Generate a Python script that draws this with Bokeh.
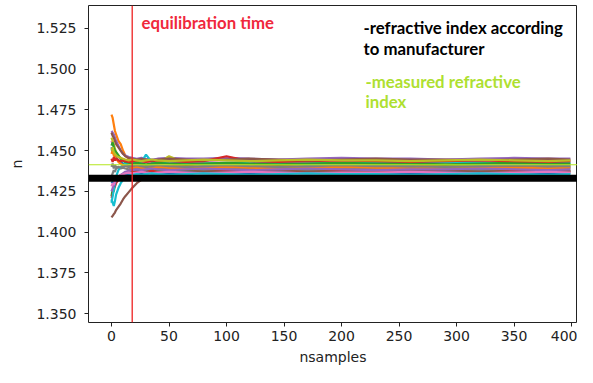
from bokeh.plotting import figure
from bokeh.models import Span, Label, FixedTicker, NumeralTickFormatter, Range1d
from bokeh.palettes import Category10_10
from bokeh.embed import file_html
from bokeh.resources import INLINE

# ---------------- data ----------------
nsamples = [0, 1, 2, 3, 4, 6, 8, 10, 12, 15, 18, 22, 26, 30, 35, 40, 50, 65, 80, 100,
            120, 145, 170, 200, 230, 260, 290, 320, 350, 380, 399]

s0 = [1.4520, 1.4490, 1.4500, 1.4470, 1.4460, 1.4440, 1.4430, 1.4420, 1.4415, 1.4410,
      1.4405, 1.4400, 1.4405, 1.4400, 1.4395, 1.4400, 1.4405, 1.4400, 1.4395, 1.4400,
      1.4405, 1.4400, 1.4400, 1.4395, 1.4400, 1.4405, 1.4400, 1.4395, 1.4400, 1.4400, 1.4400]
s1 = [1.4720, 1.4700, 1.4660, 1.4620, 1.4600, 1.4560, 1.4540, 1.4500, 1.4470, 1.4450,
      1.4430, 1.4420, 1.4415, 1.4410, 1.4415, 1.4410, 1.4405, 1.4410, 1.4415, 1.4410,
      1.4405, 1.4410, 1.4415, 1.4410, 1.4410, 1.4405, 1.4410, 1.4415, 1.4410, 1.4405, 1.4410]
s2 = [1.4220, 1.4260, 1.4250, 1.4290, 1.4310, 1.4330, 1.4340, 1.4355, 1.4365, 1.4370,
      1.4375, 1.4380, 1.4375, 1.4380, 1.4385, 1.4380, 1.4375, 1.4380, 1.4385, 1.4380,
      1.4375, 1.4380, 1.4380, 1.4385, 1.4380, 1.4375, 1.4380, 1.4385, 1.4380, 1.4380, 1.4375]
s3 = [1.4210, 1.4230, 1.4270, 1.4280, 1.4300, 1.4320, 1.4330, 1.4340, 1.4350, 1.4360,
      1.4365, 1.4370, 1.4365, 1.4370, 1.4375, 1.4370, 1.4365, 1.4370, 1.4370, 1.4375,
      1.4370, 1.4365, 1.4370, 1.4375, 1.4370, 1.4365, 1.4370, 1.4370, 1.4375, 1.4370, 1.4370]
s4 = [1.4620, 1.4610, 1.4600, 1.4580, 1.4560, 1.4530, 1.4500, 1.4480, 1.4470, 1.4460,
      1.4455, 1.4450, 1.4455, 1.4450, 1.4445, 1.4450, 1.4455, 1.4450, 1.4450, 1.4455,
      1.4450, 1.4445, 1.4450, 1.4455, 1.4450, 1.4450, 1.4445, 1.4450, 1.4455, 1.4450, 1.4450]
s5 = [1.4090, 1.4100, 1.4110, 1.4120, 1.4135, 1.4155, 1.4175, 1.4200, 1.4220, 1.4245,
      1.4270, 1.4300, 1.4320, 1.4335, 1.4350, 1.4360, 1.4365, 1.4370, 1.4375, 1.4370,
      1.4375, 1.4380, 1.4375, 1.4370, 1.4375, 1.4380, 1.4375, 1.4375, 1.4370, 1.4375, 1.4375]
s6 = [1.4560, 1.4540, 1.4520, 1.4500, 1.4480, 1.4460, 1.4450, 1.4440, 1.4435, 1.4430,
      1.4435, 1.4430, 1.4425, 1.4430, 1.4435, 1.4430, 1.4430, 1.4435, 1.4430, 1.4425,
      1.4430, 1.4435, 1.4430, 1.4430, 1.4435, 1.4440, 1.4430, 1.4425, 1.4430, 1.4435, 1.4430]
s7 = [1.4400, 1.4420, 1.4390, 1.4410, 1.4400, 1.4395, 1.4390, 1.4395, 1.4390, 1.4385,
      1.4390, 1.4395, 1.4390, 1.4385, 1.4390, 1.4395, 1.4390, 1.4390, 1.4385, 1.4390,
      1.4395, 1.4390, 1.4385, 1.4390, 1.4390, 1.4395, 1.4390, 1.4385, 1.4390, 1.4395, 1.4390]
s8 = [1.4580, 1.4560, 1.4540, 1.4510, 1.4490, 1.4470, 1.4450, 1.4440, 1.4430, 1.4420,
      1.4415, 1.4420, 1.4415, 1.4410, 1.4415, 1.4420, 1.4465, 1.4420, 1.4415, 1.4410,
      1.4415, 1.4420, 1.4415, 1.4410, 1.4415, 1.4420, 1.4415, 1.4410, 1.4415, 1.4420, 1.4415]
s9 = [1.4180, 1.4220, 1.4260, 1.4300, 1.4340, 1.4380, 1.4400, 1.4410, 1.4420, 1.4425,
      1.4430, 1.4425, 1.4430, 1.4475, 1.4430, 1.4425, 1.4430, 1.4425, 1.4420, 1.4425,
      1.4430, 1.4425, 1.4420, 1.4425, 1.4430, 1.4425, 1.4430, 1.4425, 1.4420, 1.4425, 1.4425]
s10 = [1.4300, 1.4310, 1.4280, 1.4300, 1.4320, 1.4330, 1.4340, 1.4345, 1.4350, 1.4355,
       1.4360, 1.4355, 1.4360, 1.4365, 1.4360, 1.4355, 1.4360, 1.4365, 1.4360, 1.4355,
       1.4360, 1.4365, 1.4360, 1.4360, 1.4355, 1.4360, 1.4365, 1.4360, 1.4355, 1.4360, 1.4360]
s11 = [1.4480, 1.4500, 1.4470, 1.4460, 1.4450, 1.4430, 1.4420, 1.4410, 1.4405, 1.4400,
       1.4395, 1.4400, 1.4395, 1.4390, 1.4395, 1.4400, 1.4395, 1.4390, 1.4395, 1.4400,
       1.4395, 1.4390, 1.4395, 1.4400, 1.4395, 1.4390, 1.4395, 1.4400, 1.4395, 1.4390, 1.4395]
s12 = [1.4530, 1.4550, 1.4520, 1.4500, 1.4490, 1.4470, 1.4450, 1.4440, 1.4430, 1.4425,
       1.4420, 1.4425, 1.4420, 1.4415, 1.4420, 1.4425, 1.4420, 1.4415, 1.4420, 1.4425,
       1.4420, 1.4415, 1.4420, 1.4425, 1.4420, 1.4420, 1.4415, 1.4420, 1.4425, 1.4420, 1.4420]
s13 = [1.4450, 1.4430, 1.4460, 1.4440, 1.4450, 1.4440, 1.4435, 1.4440, 1.4435, 1.4430,
       1.4435, 1.4440, 1.4435, 1.4430, 1.4435, 1.4440, 1.4435, 1.4430, 1.4435, 1.4465,
       1.4435, 1.4430, 1.4435, 1.4440, 1.4435, 1.4430, 1.4435, 1.4440, 1.4435, 1.4430, 1.4435]
s14 = [1.4250, 1.4270, 1.4290, 1.4310, 1.4320, 1.4340, 1.4350, 1.4360, 1.4370, 1.4375,
       1.4380, 1.4385, 1.4380, 1.4385, 1.4390, 1.4385, 1.4380, 1.4385, 1.4390, 1.4385,
       1.4380, 1.4385, 1.4390, 1.4385, 1.4380, 1.4385, 1.4385, 1.4390, 1.4385, 1.4380, 1.4385]
s15 = [1.4610, 1.4590, 1.4580, 1.4560, 1.4540, 1.4520, 1.4500, 1.4480, 1.4465, 1.4455,
       1.4450, 1.4445, 1.4450, 1.4445, 1.4440, 1.4445, 1.4450, 1.4445, 1.4440, 1.4445,
       1.4450, 1.4445, 1.4440, 1.4445, 1.4450, 1.4445, 1.4445, 1.4440, 1.4445, 1.4450, 1.4445]
s16 = [1.4280, 1.4300, 1.4290, 1.4310, 1.4330, 1.4340, 1.4350, 1.4355, 1.4360, 1.4365,
       1.4360, 1.4365, 1.4370, 1.4365, 1.4360, 1.4365, 1.4370, 1.4365, 1.4360, 1.4365,
       1.4370, 1.4365, 1.4360, 1.4365, 1.4365, 1.4370, 1.4365, 1.4360, 1.4365, 1.4370, 1.4365]
s17 = [1.4340, 1.4360, 1.4380, 1.4370, 1.4390, 1.4400, 1.4395, 1.4400, 1.4405, 1.4400,
       1.4405, 1.4410, 1.4405, 1.4400, 1.4405, 1.4410, 1.4405, 1.4400, 1.4405, 1.4410,
       1.4405, 1.4400, 1.4405, 1.4410, 1.4405, 1.4405, 1.4400, 1.4405, 1.4410, 1.4405, 1.4405]
s18 = [1.4500, 1.4520, 1.4490, 1.4480, 1.4470, 1.4460, 1.4455, 1.4450, 1.4445, 1.4440,
       1.4445, 1.4440, 1.4435, 1.4440, 1.4445, 1.4440, 1.4435, 1.4440, 1.4445, 1.4440,
       1.4435, 1.4440, 1.4445, 1.4440, 1.4440, 1.4435, 1.4440, 1.4445, 1.4440, 1.4435, 1.4440]
s19 = [1.4200, 1.4180, 1.4160, 1.4190, 1.4230, 1.4270, 1.4300, 1.4320, 1.4335, 1.4345,
       1.4350, 1.4355, 1.4350, 1.4355, 1.4360, 1.4355, 1.4350, 1.4355, 1.4360, 1.4355,
       1.4350, 1.4355, 1.4360, 1.4355, 1.4355, 1.4350, 1.4355, 1.4360, 1.4355, 1.4350, 1.4355]

series = [s0, s1, s2, s3, s4, s5, s6, s7, s8, s9,
          s10, s11, s12, s13, s14, s15, s16, s17, s18, s19]

n_manufacturer = 1.433
n_measured = 1.4413
equilibration_time = 18

x_ticks = [0, 50, 100, 150, 200, 250, 300, 350, 400]
y_ticks = [1.350, 1.375, 1.400, 1.425, 1.450, 1.475, 1.500, 1.525]

# ---------------- figure ----------------
p = figure(width=577, height=367, output_backend="svg", toolbar_location=None,
           x_range=Range1d(-20, 405.2), y_range=Range1d(1.34453, 1.53899),
           min_border_left=88, min_border_right=0, min_border_top=5, min_border_bottom=42)
p.background_fill_color = "white"
p.border_fill_color = "white"
p.outline_line_color = "#222222"
p.outline_line_width = 1
p.xgrid.visible = False
p.ygrid.visible = False

for i, s in enumerate(series):
    assert len(s) == len(nsamples)
    p.line(nsamples, s, line_color=Category10_10[i % 10], line_width=2.2)

p.add_layout(Span(location=n_manufacturer, dimension="width",
                  line_color="black", line_width=7))
p.add_layout(Span(location=n_measured, dimension="width",
                  line_color="#b4e61e", line_width=1.2))
p.add_layout(Span(location=equilibration_time, dimension="height",
                  line_color="#ee2222", line_width=1.3))

for ax in (p.xaxis[0], p.yaxis[0]):
    ax.major_label_text_font = "DejaVu Sans"
    ax.major_label_text_font_size = "14px"
    ax.major_label_text_color = "#222222"
    ax.axis_label_text_font = "DejaVu Sans"
    ax.axis_label_text_font_size = "14px"
    ax.axis_label_text_font_style = "normal"
    ax.axis_label_text_color = "#222222"
    ax.major_tick_out = 4
    ax.major_tick_in = 0
    ax.minor_tick_out = 0
    ax.minor_tick_in = 0
    ax.axis_line_color = None
    ax.major_tick_line_color = "#222222"

p.xaxis.ticker = FixedTicker(ticks=x_ticks)
p.yaxis.ticker = FixedTicker(ticks=y_ticks)
p.yaxis.formatter = NumeralTickFormatter(format="0.000")
p.xaxis.axis_label = "nsamples"
p.yaxis.axis_label = "n"
p.xaxis.major_label_standoff = 4
p.yaxis.major_label_standoff = 8
p.xaxis.axis_label_standoff = 5
p.yaxis.axis_label_standoff = 8

def add_label(txt, x, y, color):
    p.add_layout(Label(x=x, y=y, x_units="screen", y_units="screen", text=txt,
                       text_font="Lato", text_font_style="bold", text_font_size="16.8px",
                       text_color=color, text_baseline="middle", text_align="left"))

add_label("equilibration time", 53, 300, "#f0283c")
add_label("-refractive index according", 275, 295, "black")
add_label("to manufacturer", 275, 274, "black")
add_label("-measured refractive", 277, 241, "#aee030")
add_label("index", 277, 221, "#aee030")

open("out.html", "w").write(file_html(p, INLINE))
